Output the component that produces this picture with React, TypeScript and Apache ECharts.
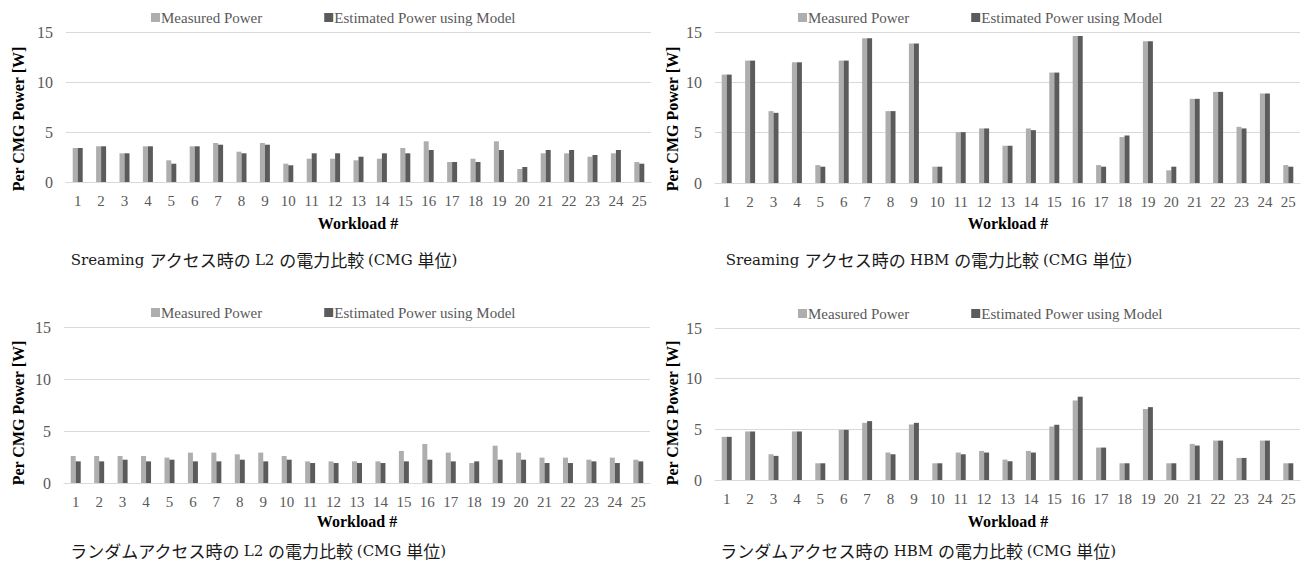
import React, { useEffect, useRef } from "react";
import * as echarts from "echarts";

const workloads = Array.from({ length: 25 }, (_, i) => String(i + 1));
const seriesNames = ["Measured Power", "Estimated Power using Model"];

// Streaming L2
const strL2Measured = [3.4, 3.57, 2.87, 3.57, 2.17, 3.57, 3.9, 3.03, 3.9, 1.83, 2.33, 2.33, 2.17, 2.33, 3.4, 4.07, 2.0, 2.33, 4.07, 1.3, 2.87, 2.87, 2.53, 2.87, 2.0];
const strL2Estimated = [3.4, 3.57, 2.87, 3.57, 1.83, 3.57, 3.73, 2.87, 3.73, 1.67, 2.87, 2.87, 2.53, 2.87, 2.87, 3.2, 2.0, 2.0, 3.2, 1.5, 3.2, 3.2, 2.7, 3.2, 1.83];
// Streaming HBM
const strHbmMeasured = [10.77, 12.16, 7.14, 11.99, 1.78, 12.16, 14.37, 7.14, 13.87, 1.62, 5.05, 5.42, 3.7, 5.42, 10.97, 14.6, 1.78, 4.56, 14.07, 1.26, 8.36, 9.05, 5.58, 8.89, 1.78];
const strHbmEstimated = [10.77, 12.16, 6.97, 11.99, 1.62, 12.16, 14.37, 7.14, 13.87, 1.62, 5.05, 5.42, 3.7, 5.25, 10.97, 14.6, 1.62, 4.72, 14.07, 1.62, 8.36, 9.05, 5.42, 8.89, 1.62];
// Random L2
const rndL2Measured = [2.6, 2.6, 2.6, 2.6, 2.44, 2.92, 2.92, 2.76, 2.92, 2.6, 2.08, 2.08, 2.08, 2.08, 3.08, 3.75, 2.92, 1.92, 3.59, 2.92, 2.44, 2.44, 2.24, 2.44, 2.24];
const rndL2Estimated = [2.08, 2.08, 2.24, 2.08, 2.24, 2.08, 2.08, 2.24, 2.08, 2.24, 1.92, 1.92, 1.92, 1.92, 2.08, 2.24, 2.08, 2.08, 2.24, 2.24, 1.92, 1.92, 2.08, 1.92, 2.08];
// Random HBM
const rndHbmMeasured = [4.26, 4.79, 2.54, 4.79, 1.65, 4.95, 5.64, 2.71, 5.48, 1.65, 2.71, 2.87, 2.01, 2.87, 5.28, 7.85, 3.2, 1.65, 7.0, 1.65, 3.56, 3.89, 2.18, 3.89, 1.65];
const rndHbmEstimated = [4.26, 4.79, 2.38, 4.79, 1.65, 4.95, 5.81, 2.54, 5.64, 1.65, 2.54, 2.71, 1.85, 2.71, 5.45, 8.22, 3.2, 1.65, 7.19, 1.65, 3.4, 3.89, 2.18, 3.89, 1.65];

const yTicks = [0, 5, 10, 15];

const captions = [
  "Sreaming アクセス時の L2 の電力比較 (CMG 単位)",
  "Sreaming アクセス時の HBM の電力比較 (CMG 単位)",
  "ランダムアクセス時の L2 の電力比較 (CMG 単位)",
  "ランダムアクセス時の HBM の電力比較 (CMG 単位)",
];
const yAxisTitle = "Per CMG Power [W]";
const xAxisTitle = "Workload #";

const panels = [
  { measured: strL2Measured, estimated: strL2Estimated },
  { measured: strHbmMeasured, estimated: strHbmEstimated },
  { measured: rndL2Measured, estimated: rndL2Estimated },
  { measured: rndHbmMeasured, estimated: rndHbmEstimated },
];

const SERIF = "'Liberation Serif', 'Times New Roman', serif";
const LABEL_COLOR = "#595959";
const GRID_COLOR = "#d9d9d9";
const MEAS_COLOR = "#aeaeae";
const EST_COLOR = "#5b5b5b";

const grids = [
  { left: 66, top: 32, width: 585, height: 150 },
  { left: 715, top: 32, width: 585, height: 151 },
  { left: 64, top: 327, width: 586, height: 156 },
  { left: 715, top: 328, width: 585, height: 152 },
];
const legendPos = [
  { left: 146, top: 5 },
  { left: 793, top: 5 },
  { left: 146, top: 300 },
  { left: 793, top: 301 },
];
const yTitlePos = [
  { x: 18, y: 119 },
  { x: 672, y: 119 },
  { x: 18, y: 413 },
  { x: 672, y: 413 },
];
const xTitlePos = [
  { x: 358, y: 223 },
  { x: 1008, y: 223 },
  { x: 357, y: 521 },
  { x: 1008, y: 521 },
];
const captionPos = [
  { x: 264, y: 258 },
  { x: 929, y: 258 },
  { x: 258, y: 549 },
  { x: 918, y: 549 },
];

// split caption into Latin / CJK runs so each run gets its own font
function toRich(s: string) {
  const parts: string[] = [];
  let cur = "";
  let curCjk: boolean | null = null;
  for (const ch of s) {
    const cjk = /[\u3000-\u9fff\uff00-\uffef]/.test(ch);
    const isSpace = ch === " ";
    if (curCjk === null || isSpace || cjk === curCjk) {
      cur += ch;
      if (!isSpace && curCjk === null) curCjk = cjk;
    } else {
      parts.push(`{${curCjk ? "j" : "l"}|${cur}}`);
      cur = ch;
      curCjk = cjk;
    }
  }
  if (cur) parts.push(`{${curCjk ? "j" : "l"}|${cur}}`);
  return parts.join("");
}

export default function App() {
  const ref = useRef<HTMLDivElement>(null);
  useEffect(() => {
    if (!ref.current) return;
    const chart = echarts.init(ref.current, undefined, { renderer: "svg" });
    const series: any[] = [];
    panels.forEach((p, i) => {
      series.push({
        name: seriesNames[0],
        type: "bar",
        xAxisIndex: i,
        yAxisIndex: i,
        data: p.measured,
        barWidth: 5,
        barGap: "0%",
        itemStyle: { color: MEAS_COLOR },
      });
      series.push({
        name: seriesNames[1],
        type: "bar",
        xAxisIndex: i,
        yAxisIndex: i,
        data: p.estimated,
        barWidth: 5,
        barGap: "0%",
        itemStyle: { color: EST_COLOR },
      });
    });
    const graphic: any[] = [];
    for (let i = 0; i < 4; i++) {
      graphic.push({
        type: "text",
        x: yTitlePos[i].x,
        y: yTitlePos[i].y,
        rotation: Math.PI / 2,
        style: {
          text: yAxisTitle,
          fontFamily: SERIF,
          fontWeight: "bold",
          fontSize: 16,
          fill: "#000",
          textAlign: "center",
          textVerticalAlign: "middle",
        },
      });
      graphic.push({
        type: "text",
        x: xTitlePos[i].x,
        y: xTitlePos[i].y,
        style: {
          text: xAxisTitle,
          fontFamily: SERIF,
          fontWeight: "bold",
          fontSize: 16,
          fill: "#000",
          textAlign: "center",
          textVerticalAlign: "middle",
        },
      });
      graphic.push({
        type: "text",
        x: captionPos[i].x,
        y: captionPos[i].y,
        style: {
          text: toRich(captions[i]),
          fontSize: 17,
          fill: "#1a1a1a",
          textAlign: "center",
          textVerticalAlign: "middle",
          rich: {
            l: { fontFamily: "'DejaVu Serif', serif", fontSize: 15, fill: "#1a1a1a", lineHeight: 20, verticalAlign: "bottom", padding: [0, 0, 1, 0] },
            j: { fontFamily: "'Noto Sans CJK JP'", fontSize: 17, fill: "#1a1a1a", lineHeight: 20, verticalAlign: "bottom" },
          },
        },
      });
    }
    chart.setOption({
      animation: false,
      backgroundColor: "#ffffff",
      grid: grids.map((g) => ({ ...g, containLabel: false })),
      legend: legendPos.map((lp) => ({
        data: seriesNames,
        left: lp.left,
        top: lp.top,
        itemWidth: 9,
        itemHeight: 9,
        itemGap: 62,
        icon: "rect",
        selectedMode: false,
        textStyle: { fontFamily: SERIF, fontSize: 15, color: LABEL_COLOR, padding: [0, 0, 0, -4] },
      })),
      xAxis: grids.map((_, i) => ({
        type: "category",
        gridIndex: i,
        data: workloads,
        axisTick: { show: false },
        axisLine: { lineStyle: { color: GRID_COLOR } },
        axisLabel: { interval: 0, fontFamily: SERIF, fontSize: 15, color: LABEL_COLOR, margin: 11 },
      })),
      yAxis: grids.map((_, i) => ({
        type: "value",
        gridIndex: i,
        min: yTicks[0],
        max: yTicks[yTicks.length - 1],
        interval: 5,
        axisLine: { show: false },
        axisTick: { show: false },
        splitLine: { lineStyle: { color: GRID_COLOR } },
        axisLabel: { fontFamily: SERIF, fontSize: 16, color: LABEL_COLOR, margin: 13 },
      })),
      series,
      graphic,
    });
    return () => chart.dispose();
  }, []);
  return (
    <div
      ref={ref}
      style={{ position: "fixed", left: 0, top: 0, width: 1309, height: 567, background: "#fff" }}
    />
  );
}
